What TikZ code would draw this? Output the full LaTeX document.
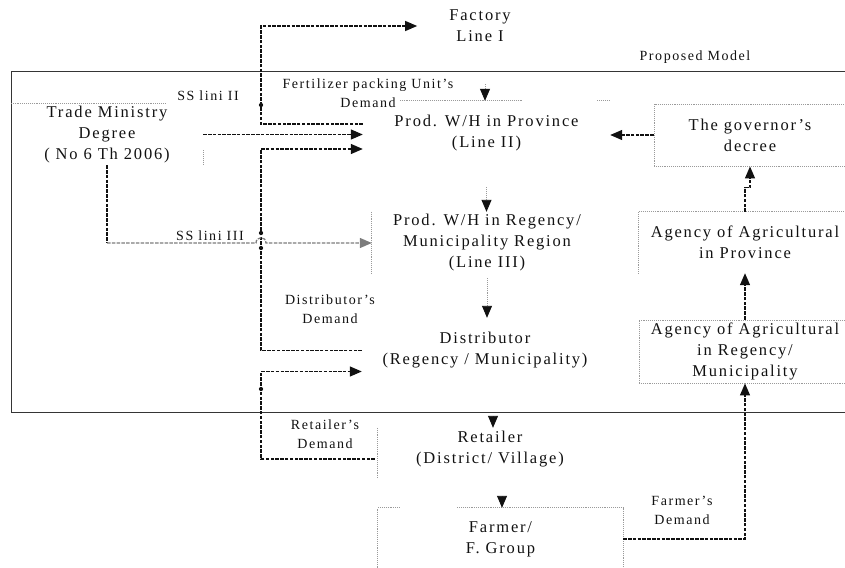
\documentclass[tikz,border=0pt]{standalone}
\usepackage{fontspec}
\setmainfont{Liberation Serif}[LetterSpace=11]
\usetikzlibrary{arrows.meta,calc,positioning}
\definecolor{ink}{HTML}{111111}
\definecolor{line}{HTML}{9A9A9A}
\definecolor{muted}{HTML}{7C7C7C}
\tikzset{
  basebox/.style={inner sep=0pt,align=center,font=\fontsize{16.5}{21}\selectfont,text=ink},
  note/.style={inner sep=0pt,align=center,font=\fontsize{14}{19}\selectfont,text=ink},
  outline/.style={draw=line,densely dotted,line width=0.9pt},
  arrow/.style={-{Triangle[length=12pt,width=10pt]},line width=1.3pt,draw=ink,dash pattern=on 3.5pt off 1.3pt},
  softarrow/.style={arrow,draw=muted},
  bus/.style={line width=1.8pt,draw=ink,dash pattern=on 3.5pt off 1.3pt},
  drop/.style={-{Triangle[length=12pt,width=10pt,color=ink]},line width=0.9pt,draw=line,densely dotted},
  frameline/.style={line width=1pt,draw=ink!85},
  dot/.style={circle,fill=ink,inner sep=1.5pt}
}
\begin{document}
\begin{tikzpicture}[x=1pt,y=-1pt,
    blk/.style={basebox,minimum height=62pt}
  ]
  \useasboundingbox (0,0) rectangle (845,567);
  \draw[frameline] (850,72) -- (11,72) -- (11,412) -- (850,412);

  \node[basebox] (fac) at (480,26) {Factory\\Line I};
  \node[note] (pm) at (695,57) {Proposed Model};

  \node[blk,minimum width=192pt,minimum height=61pt] (tm) at (107,134.5) {Trade Ministry\\Degree\\( No 6 Th 2006)};
  \node[blk,minimum width=247pt,minimum height=64pt] (pw) at (486.5,133) {Prod. W/H in Province\\(Line II)};
  \node[blk,minimum width=230pt] (pr) at (487,243) {Prod. W/H in Regency/\\Municipality Region\\(Line III)};
  \node[blk,minimum width=246pt,minimum height=65pt] (ds) at (485,350.5) {Distributor\\(Regency / Municipality)};
  \node[blk,minimum width=230pt,minimum height=42pt] (rt) at (490,449) {Retailer\\(District/ Village)};
  \node[blk,minimum width=245pt] (fm) at (500.5,539) {Farmer/\\F. Group};

  \node[blk,outline,minimum width=192pt] (gov) at (750,135) {The governor's\\decree};
  \node[blk,minimum width=212pt,minimum height=61pt] (ap) at (745,242.5) {Agency of Agricultural\\in Province};
  \node[blk,outline,minimum width=212pt,minimum height=63pt] (ar) at (745,351.5) {Agency of Agricultural\\in Regency/\\Municipality};

  \draw[outline] (ap.north east) -- (ap.north west) -- (ap.south west);
  \draw[outline] (fm.south west) -- (fm.north west) -- ([xshift=22pt]fm.north west);
  \draw[outline] ([xshift=-166pt]fm.north east) -- (fm.north east) -- (fm.south east);
  \draw[outline] (tm.north west) -- ([xshift=-38pt]tm.north east);
  \draw[outline] ([yshift=15pt]tm.south east) -- (tm.south east);
  \draw[outline] ([xshift=37pt]pw.north west) -- ([xshift=-87pt]pw.north east);
  \draw[outline] ([xshift=-13pt]pw.north east) -- (pw.north east);
  \draw[outline] (pr.north west) -- (pr.south west);
  \draw[outline] ([xshift=3pt]rt.north west) -- ([xshift=3pt,yshift=-50pt]rt.north west);

  \node[note] (ss2) at (208,96) {SS lini II};
  \node[note] (ss3) at (210,236) {SS lini III};
  \node[note] (fpd) at (368,93) {Fertilizer packing Unit's\\Demand};
  \node[note] (dsd) at (330,309) {Distributor's\\Demand};
  \node[note] (rtd) at (325,434) {Retailer's\\Demand};
  \node[note] (fmd) at (682,510) {Farmer's\\Demand};

  \coordinate (jn) at (261,0);
  \coordinate (pwin) at ([yshift=-16pt]pw.west);
  \coordinate (dsin) at ([yshift=-21pt]ds.west);
  \coordinate (hop) at (jn |- pr.west);

  \draw[arrow] ([yshift=9pt]pw.west) -| (jn |- fac.west) -- ([xshift=-32pt]fac.west);
  \draw[arrow] (tm.east) -- (tm.east -| pw.west);
  \draw[arrow] (ds.west) -| (jn |- pwin) -- (pwin);
  \draw[arrow] ([yshift=-10pt]rt.west) -| (jn |- dsin) -- (dsin);
  \draw[bus] (tm.south) -- (tm.south |- hop);
  \draw[softarrow] (tm.south |- hop) -- ([xshift=-5pt]hop) .. controls ([xshift=-5pt,yshift=7pt]hop) and ([xshift=5pt,yshift=7pt]hop) .. ([xshift=5pt]hop) -- (pr.west);
  \node[dot] (j1) at (261,105) {};
  \node[dot] (j2) at (261,233) {};
  \node[dot] (j3) at (261,248) {};
  \node[dot] (j4) at (261,389) {};

  \draw[arrow] (gov.west) -- (gov.west -| pw.east);
  \draw[arrow] (ap.north) -- ++(0,-24) -| (gov.south);
  \draw[arrow] (ar.north) -- (ap.south);
  \draw[arrow] (fm.east) -| (ar.south);

  \draw[drop,shorten <=42pt] ([xshift=5pt]fac.south) -- ([xshift=5pt]fac.south |- pw.north);
  \draw[drop,shorten <=22pt] (pw.south) -- (pw.south |- pr.north);
  \draw[drop,shorten <=4pt] (pr.south) -- (pr.south |- ds.north);
  \draw[drop,shorten <=36pt] ([xshift=8pt]ds.south) -- ([xshift=8pt]ds.south |- rt.north);
  \draw[drop,shorten <=26pt] ([xshift=12pt]rt.south) -- ([xshift=12pt]rt.south |- fm.north);
\end{tikzpicture}
\end{document}
